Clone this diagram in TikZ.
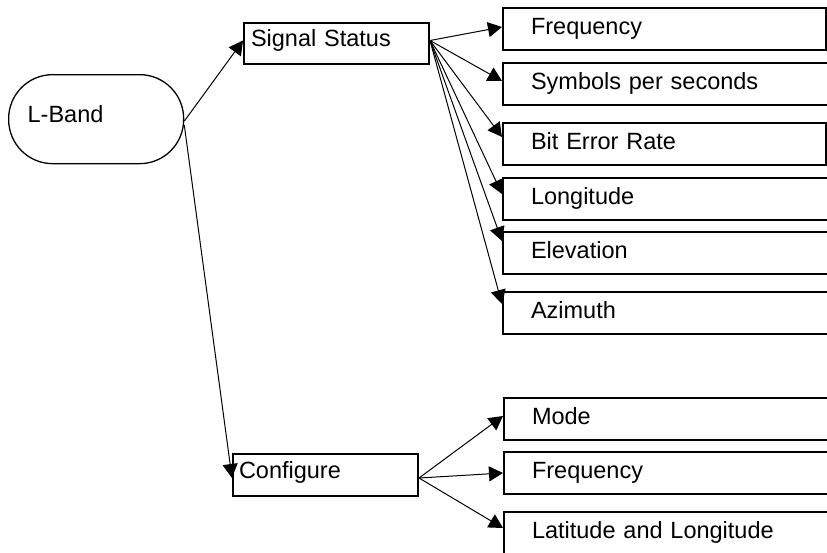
\documentclass[tikz,border=0pt]{standalone}
\usepackage{fontspec}
\setmainfont{Liberation Sans}
\usetikzlibrary{arrows.meta}
\begin{document}
\begin{tikzpicture}[x=1pt,y=-1pt,
  every node/.style={font=\fontsize{23.5}{28}\selectfont},
  box/.style={draw, line width=2pt, anchor=north west, align=left, inner ysep=0pt,
    minimum height=42pt, text height=16pt, text depth=6pt},
  rbox/.style={box, inner xsep=28pt, text width=267pt},
  rboxx/.style={box, inner xsep=28pt, text width=304pt},
  conn/.style={line width=1pt, -{Triangle[length=14pt,width=15pt]}}]
\useasboundingbox (0,0) rectangle (827,552);
\clip (0,0) rectangle (827,552);
% left nodes
\node[draw, line width=1.3pt, rounded corners=44pt, anchor=north west, minimum height=89pt,
  inner xsep=19pt, inner ysep=0pt, text width=137pt, align=left, text height=16pt, text depth=9pt] (lb) at (8,74) {L-Band};
\node[box, minimum height=41pt, inner xsep=7pt, text width=171pt, text depth=11pt] (ss) at (243,22) {Signal Status};
\node[box, inner xsep=6pt, text width=173pt, text depth=10pt] (cf) at (232,453) {Configure};
% signal status children
\node[rbox] (f1) at (502,7) {Frequency};
\node[rboxx] (sy) at (502,62) {Symbols per seconds};
\node[rbox] (ber) at (502,122) {Bit Error Rate};
\node[rboxx] (lon) at (502,177) {Longitude};
\node[rboxx] (ele) at (502,231) {Elevation};
\node[rboxx] (azi) at (502,291) {Azimuth};
% configure children
\node[rboxx] (mo) at (503,397) {Mode};
\node[rboxx] (f2) at (503,451) {Frequency};
\node[rboxx] (la) at (503,511) {Latitude and Longitude};
% connectors
\draw[conn] ([yshift=-2pt]lb.east) -- ([yshift=3pt]ss.west);
\draw[conn] ([yshift=-6pt]lb.east) -- ([yshift=-3pt]cf.west);
\draw[conn] ([yshift=3pt]ss.east) -- ([yshift=2pt]f1.west);
\draw[conn] ([yshift=3pt]ss.east) -- ([yshift=3pt]sy.west);
\draw[conn] ([yshift=3pt]ss.east) -- ([yshift=7pt]ber.west);
\draw[conn] ([yshift=3pt]ss.east) -- ([yshift=5pt]lon.west);
\draw[conn] ([yshift=3pt]ss.east) -- ([yshift=12pt]ele.west);
\draw[conn] ([yshift=3pt]ss.east) -- ([yshift=9pt]azi.west);
\draw[conn] ([yshift=-3pt]cf.east) -- ([yshift=3pt]mo.west);
\draw[conn] ([yshift=-3pt]cf.east) -- (f2.west);
\draw[conn] ([yshift=-3pt]cf.east) -- ([yshift=5pt]la.west);
\end{tikzpicture}
\end{document}
